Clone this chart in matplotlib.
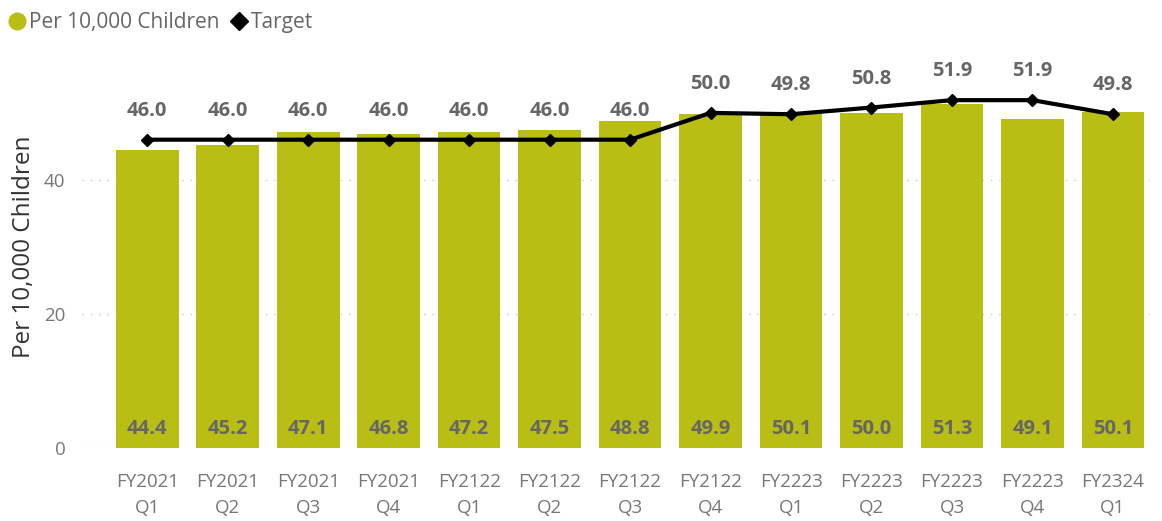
import matplotlib.pyplot as plt
from matplotlib.lines import Line2D

plt.rcParams['font.family'] = ['Open Sans', 'DejaVu Sans']

# quarterly rate per 10,000 children against target
fiscal_years = ["FY2021", "FY2021", "FY2021", "FY2021", "FY2122", "FY2122", "FY2122",
                "FY2122", "FY2223", "FY2223", "FY2223", "FY2223", "FY2324"]
quarters = ["Q1", "Q2", "Q3", "Q4", "Q1", "Q2", "Q3", "Q4", "Q1", "Q2", "Q3", "Q4", "Q1"]
per_10000 = [44.4, 45.2, 47.1, 46.8, 47.2, 47.5, 48.8, 49.9, 50.1, 50.0, 51.3, 49.1, 50.1]
target = [46.0, 46.0, 46.0, 46.0, 46.0, 46.0, 46.0, 50.0, 49.8, 50.8, 51.9, 51.9, 49.8]

BAR_COLOR = "#B8BE14"
LABEL_COLOR = "#666666"
TICK_COLOR = "#777777"

fig = plt.figure(figsize=(11.62, 5.21), dpi=100)
ax = fig.add_axes([0.0706, 0.140, 0.919, 0.772])

x = list(range(len(quarters)))
ax.bar(x, per_10000, width=0.78, color=BAR_COLOR, zorder=2)
ax.plot(x, target, color="black", lw=3, marker="D", markersize=6.5, zorder=3)

for xi, v in zip(x, per_10000):
    ax.annotate(f"{v:.1f}", (xi, 0), xytext=(0, 19), textcoords="offset pixels",
                ha="center", va="center", fontsize=14.5, fontweight="bold",
                color=LABEL_COLOR, zorder=4)
for xi, t in zip(x, target):
    ax.annotate(f"{t:.1f}", (xi, t), xytext=(0, 29), textcoords="offset pixels",
                ha="center", va="center", fontsize=14.5, fontweight="bold",
                color=LABEL_COLOR, zorder=4)

ax.set_xlim(-0.81, 12.46)
ax.set_ylim(0, 60)
ax.set_yticks([0, 20, 40])
ax.set_xticks(x)
ax.set_xticklabels([f"{fy}\n{q}" for fy, q in zip(fiscal_years, quarters)],
                   linespacing=1.6)
ax.tick_params(axis="both", length=0, labelsize=13.5, labelcolor=TICK_COLOR)
ax.tick_params(axis="x", pad=18)
ax.tick_params(axis="y", pad=12)
ax.grid(axis="y", color="#C8C8C8", linestyle=(0, (1, 5)), lw=1, zorder=0)
for s in ax.spines.values():
    s.set_visible(False)
ax.set_ylabel("Per 10,000 Children", fontsize=17.5, color="#333333", labelpad=6)

handles = [
    Line2D([], [], marker="o", color=BAR_COLOR, linestyle="none", markersize=12),
    Line2D([], [], marker="D", color="black", linestyle="none", markersize=9),
]
fig.legend(handles, ["Per 10,000 Children", "Target"], loc="upper left",
           bbox_to_anchor=(-0.011, 1.012), ncol=2, frameon=False, fontsize=15,
           labelcolor=LABEL_COLOR, handletextpad=0.0, columnspacing=0.4,
           handlelength=1.1)

fig.savefig("out.png", dpi=100)
